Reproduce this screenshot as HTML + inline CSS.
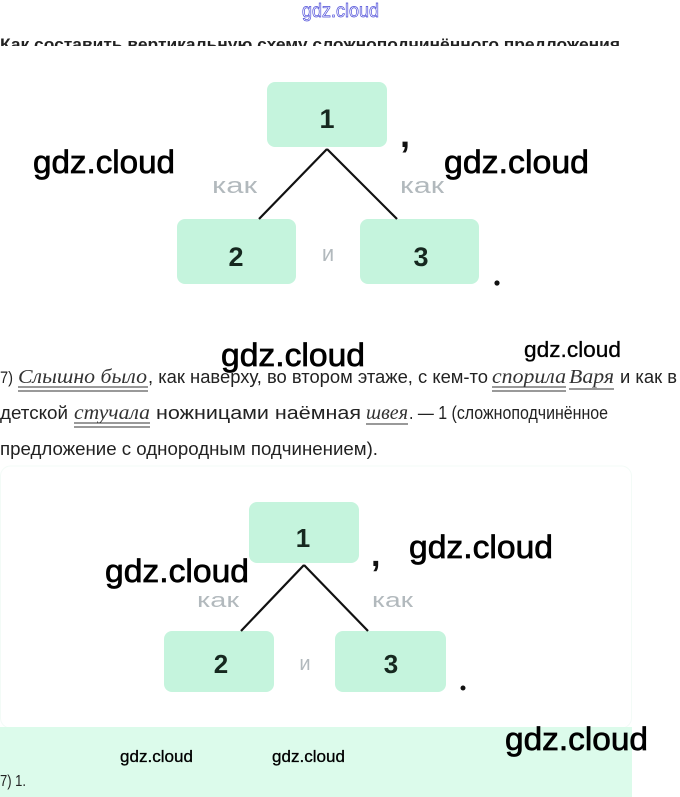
<!DOCTYPE html>
<html>
<head>
<meta charset="utf-8">
<style>
  html,body{margin:0;padding:0;background:#fff;}
  svg{display:block;}
  .sans{font-family:"Liberation Sans","DejaVu Sans",sans-serif;}
  .serif{font-family:"Liberation Serif","DejaVu Serif",serif;font-style:italic;}
  .wm{font-family:"Liberation Sans","DejaVu Sans",sans-serif;fill:#000;stroke:#000;stroke-width:0.7;}
  .wms{font-family:"Liberation Sans","DejaVu Sans",sans-serif;fill:#000;stroke:#000;stroke-width:0.3;}
</style>
</head>
<body>
<svg width="680" height="797" viewBox="0 0 680 797" xmlns="http://www.w3.org/2000/svg">
  <defs>
    <clipPath id="hclip"><rect x="0" y="0" width="680" height="46"/></clipPath>
  </defs>
  <rect x="0" y="0" width="680" height="797" fill="#fff"/>

  <!-- header -->
  <text x="302" y="17" class="sans" font-size="19" fill="#fff" stroke="#4a4ad8" stroke-width="0.7" textLength="77" lengthAdjust="spacingAndGlyphs">gdz.cloud</text>
  <g clip-path="url(#hclip)">
    <text x="0" y="50" class="sans" font-size="17" font-weight="bold" fill="#222" textLength="620" lengthAdjust="spacingAndGlyphs">Как составить вертикальную схему сложноподчинённого предложения</text>
  </g>

  <!-- diagram 1 -->
  <rect x="267" y="82" width="120" height="65" rx="8" fill="#c5f4dd"/>
  <rect x="177" y="219" width="119" height="65" rx="8" fill="#c5f4dd"/>
  <rect x="360" y="219" width="119" height="65" rx="8" fill="#c5f4dd"/>
  <line x1="327" y1="149" x2="259" y2="219" stroke="#111" stroke-width="2.2"/>
  <line x1="327" y1="149" x2="397" y2="219" stroke="#111" stroke-width="2.2"/>
  <text x="327" y="128" class="sans" font-size="27" font-weight="bold" fill="#16281f" text-anchor="middle">1</text>
  <text x="236" y="266" class="sans" font-size="27" font-weight="bold" fill="#16281f" text-anchor="middle">2</text>
  <text x="421" y="266" class="sans" font-size="27" font-weight="bold" fill="#16281f" text-anchor="middle">3</text>
  <text x="212" y="193" class="sans" font-size="22" fill="#b2b9bd" textLength="45" lengthAdjust="spacingAndGlyphs">как</text>
  <text x="400" y="193" class="sans" font-size="22" fill="#b2b9bd" textLength="44" lengthAdjust="spacingAndGlyphs">как</text>
  <text x="328" y="261" class="sans" font-size="22" fill="#b2b9bd" text-anchor="middle">и</text>
  <text x="400" y="147" class="sans" font-size="36" font-weight="bold" fill="#111">,</text>
  <circle cx="497" cy="283" r="2.6" fill="#111"/>

  <!-- watermarks top -->
  <text x="33" y="173" class="wm" font-size="32" textLength="142" lengthAdjust="spacingAndGlyphs">gdz.cloud</text>
  <text x="444" y="173" class="wm" font-size="32" textLength="145" lengthAdjust="spacingAndGlyphs">gdz.cloud</text>

  <!-- paragraph -->
  <g class="sans" font-size="18" fill="#222">
    <text x="0" y="383" font-size="17" textLength="13" lengthAdjust="spacingAndGlyphs">7)</text>
    <text x="148" y="383" textLength="340" lengthAdjust="spacingAndGlyphs">, как наверху, во втором этаже, с кем-то</text>
    <text x="620" y="383" textLength="57" lengthAdjust="spacingAndGlyphs">и как в</text>
    <text x="0" y="419" textLength="68" lengthAdjust="spacingAndGlyphs">детской</text>
    <text x="156" y="419" textLength="205" lengthAdjust="spacingAndGlyphs">ножницами наёмная</text>
    <text x="409" y="419" textLength="199" lengthAdjust="spacingAndGlyphs">. — 1 (сложноподчинённое</text>
    <text x="0" y="455" textLength="378" lengthAdjust="spacingAndGlyphs">предложение с однородным подчинением).</text>
  </g>
  <g class="serif" font-size="20" fill="#333">
    <text x="18" y="383" textLength="129" lengthAdjust="spacingAndGlyphs">Слышно было</text>
    <text x="492" y="383" textLength="74" lengthAdjust="spacingAndGlyphs">спорила</text>
    <text x="569" y="383" textLength="45" lengthAdjust="spacingAndGlyphs">Варя</text>
    <text x="74" y="419" textLength="76" lengthAdjust="spacingAndGlyphs">стучала</text>
    <text x="366" y="419" textLength="42" lengthAdjust="spacingAndGlyphs">швея</text>
  </g>
  <g stroke="#333" stroke-width="1.1">
    <line x1="18" y1="387" x2="148" y2="387"/>
    <line x1="18" y1="391" x2="148" y2="391"/>
    <line x1="492" y1="387" x2="566" y2="387"/>
    <line x1="492" y1="391" x2="566" y2="391"/>
    <line x1="569" y1="389" x2="614" y2="389"/>
    <line x1="74" y1="423" x2="150" y2="423"/>
    <line x1="74" y1="427" x2="150" y2="427"/>
    <line x1="366" y1="424" x2="408" y2="424"/>
  </g>

  <text x="221" y="366" class="wm" font-size="32" textLength="144" lengthAdjust="spacingAndGlyphs">gdz.cloud</text>
  <text x="524" y="357" class="wms" font-size="22" textLength="97" lengthAdjust="spacingAndGlyphs">gdz.cloud</text>

  <!-- card -->
  <rect x="0.5" y="466" width="631" height="262" rx="10" fill="#fff" stroke="#f3fbf7" stroke-width="1"/>
  <rect x="0" y="727" width="632" height="70" fill="#dcfbeb"/>

  <!-- diagram 2 -->
  <rect x="249" y="502" width="110" height="61" rx="8" fill="#c5f4dd"/>
  <rect x="164" y="631" width="110" height="61" rx="8" fill="#c5f4dd"/>
  <rect x="335" y="631" width="111" height="61" rx="8" fill="#c5f4dd"/>
  <line x1="304" y1="565" x2="241" y2="631" stroke="#111" stroke-width="2.2"/>
  <line x1="304" y1="565" x2="368" y2="631" stroke="#111" stroke-width="2.2"/>
  <text x="303" y="547" class="sans" font-size="26" font-weight="bold" fill="#16281f" text-anchor="middle">1</text>
  <text x="221" y="673" class="sans" font-size="26" font-weight="bold" fill="#16281f" text-anchor="middle">2</text>
  <text x="391" y="673" class="sans" font-size="26" font-weight="bold" fill="#16281f" text-anchor="middle">3</text>
  <text x="197" y="607" class="sans" font-size="20" fill="#b2b9bd" textLength="42" lengthAdjust="spacingAndGlyphs">как</text>
  <text x="372" y="607" class="sans" font-size="20" fill="#b2b9bd" textLength="41" lengthAdjust="spacingAndGlyphs">как</text>
  <text x="305" y="670" class="sans" font-size="20" fill="#b2b9bd" text-anchor="middle">и</text>
  <text x="371" y="566" class="sans" font-size="34" font-weight="bold" fill="#111">,</text>
  <circle cx="463" cy="688" r="2.5" fill="#111"/>

  <text x="105" y="582" class="wm" font-size="32" textLength="144" lengthAdjust="spacingAndGlyphs">gdz.cloud</text>
  <text x="409" y="558" class="wm" font-size="32" textLength="144" lengthAdjust="spacingAndGlyphs">gdz.cloud</text>

  <!-- bottom -->
  <text x="505" y="750" class="wm" font-size="32" textLength="143" lengthAdjust="spacingAndGlyphs">gdz.cloud</text>
  <text x="120" y="762" class="wms" font-size="17" textLength="73" lengthAdjust="spacingAndGlyphs">gdz.cloud</text>
  <text x="272" y="762" class="wms" font-size="17" textLength="73" lengthAdjust="spacingAndGlyphs">gdz.cloud</text>
  <text x="0" y="786" class="sans" font-size="16" fill="#222" textLength="26" lengthAdjust="spacingAndGlyphs">7) 1.</text>
</svg>
</body>
</html>
